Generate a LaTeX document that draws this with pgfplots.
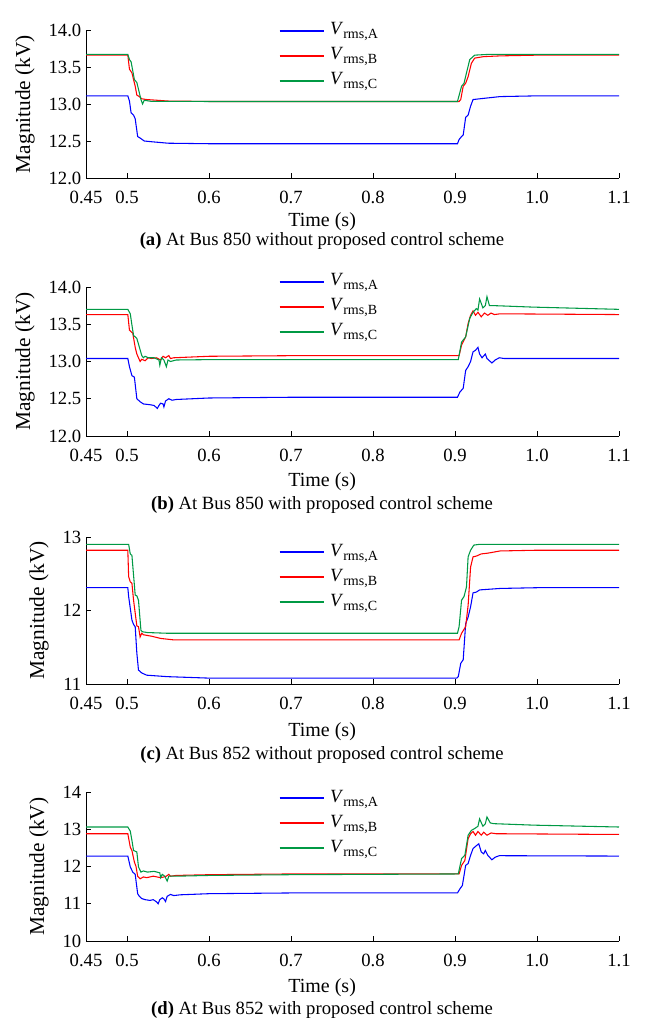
\documentclass[border=0pt]{standalone}
\usepackage{fontspec}
\setmainfont{Liberation Serif}
\usepackage{pgfplots}
\pgfplotsset{compat=1.18}

\definecolor{cA}{RGB}{0,0,255}
\definecolor{cB}{RGB}{255,0,0}
\definecolor{cC}{RGB}{0,153,68}

\newcommand{\fs}{\fontsize{14}{16}\selectfont}
\newcommand{\vr}[1]{\textit{V}\raisebox{-3pt}{\fontsize{10.5}{12}\selectfont rms,#1}}

% common look of the four panels; #1 = ylabel x pos, #2 = xlabel y pos
\pgfplotsset{
  panel/.style n args={2}{
    scale only axis, width=399.75pt,
    xmin=0.45, xmax=1.1,
    axis x line*=bottom, axis y line*=left,
    axis line style={-, black, line width=0.6pt},
    tick style={black, line width=0.6pt},
    tick align=inside, major tick length=3.5pt,
    xtick={0.45,0.5,0.6,0.7,0.8,0.9,1.0,1.1},
    xticklabels={0.45,0.5,0.6,0.7,0.8,0.9,1.0,1.1},
    tick label style={font=\fs},
    xticklabel style={yshift=-6pt},
    xlabel={Time (s)}, ylabel={Magnitude (kV)},
    xlabel style={font=\fontsize{15}{17}\selectfont},
    ylabel style={font=\fontsize{16}{18}\selectfont},
    ylabel style={at={(axis description cs:#1,0.5)}, anchor=center},
    xlabel style={at={(axis description cs:0.443,#2)}, anchor=center},
    no markers,
    every axis plot/.append style={line width=0.8pt},
    legend image code/.code={\draw[##1] (0pt,3pt) -- (33pt,3pt);},
    legend style={draw=none, fill=none, inner sep=0pt, outer sep=0pt,
      row sep=0pt, column sep=4.5pt, font=\fontsize{14}{16}\selectfont,
      nodes={inner sep=0pt, text height=10pt, text depth=8.75pt},
      cells={anchor=base west}},
  }
}

\begin{document}
\begin{tikzpicture}
\useasboundingbox (0,0) rectangle (483pt,768pt);

% (a)
\begin{axis}[panel={-0.1144}{-0.298},
  at={(64.5pt,634.5pt)}, anchor=south west, height=111pt,
  ymin=12, ymax=14, ytick={12,12.5,13,13.5,14},
  yticklabels={12.0,12.5,13.0,13.5,14.0},
  legend style={at={(0.3621,1.0563)}, anchor=north west}]
\addplot[cA] coordinates {(0.45,13.11)(0.501,13.11)(0.503,13.04)(0.505,12.88)(0.508,12.85)(0.510,12.80)(0.513,12.56)(0.516,12.54)(0.521,12.50)(0.530,12.49)(0.550,12.47)(0.600,12.463)(0.903,12.463)(0.905,12.52)(0.908,12.56)(0.910,12.58)(0.913,12.82)(0.916,12.85)(0.919,12.97)(0.922,13.06)(0.930,13.07)(0.955,13.10)(1.0,13.11)(1.1,13.11)};
\addlegendentry{\vr{A}}
\addplot[cB] coordinates {(0.45,13.66)(0.501,13.66)(0.503,13.47)(0.506,13.42)(0.510,13.24)(0.512,13.12)(0.515,13.10)(0.518,13.07)(0.524,13.06)(0.55,13.04)(0.6,13.034)(0.905,13.034)(0.907,13.06)(0.910,13.24)(0.913,13.28)(0.916,13.37)(0.920,13.55)(0.924,13.62)(0.935,13.64)(0.955,13.65)(1.0,13.66)(1.1,13.66)};
\addlegendentry{\vr{B}}
\addplot[cC] coordinates {(0.45,13.67)(0.501,13.67)(0.503,13.60)(0.505,13.57)(0.509,13.33)(0.512,13.29)(0.514,13.20)(0.517,13.06)(0.519,13.00)(0.521,13.05)(0.53,13.035)(0.6,13.034)(0.903,13.034)(0.908,13.24)(0.911,13.28)(0.914,13.42)(0.918,13.60)(0.924,13.66)(0.94,13.67)(1.1,13.67)};
\addlegendentry{\vr{C}}
\end{axis}

% (b)
\begin{axis}[panel={-0.1144}{-0.31},
  at={(64.5pt,441pt)}, anchor=south west, height=111.75pt,
  ymin=12, ymax=14, ytick={12,12.5,13,13.5,14},
  yticklabels={12.0,12.5,13.0,13.5,14.0},
  legend style={at={(0.3621,1.0962)}, anchor=north west}]
\addplot[cA] coordinates {(0.45,13.04)(0.501,13.04)(0.503,12.93)(0.506,12.81)(0.509,12.79)(0.512,12.50)(0.516,12.46)(0.520,12.43)(0.528,12.42)(0.533,12.41)(0.537,12.37)(0.539,12.41)(0.541,12.44)(0.544,12.43)(0.545,12.39)(0.547,12.47)(0.551,12.50)(0.555,12.48)(0.560,12.49)(0.6,12.51)(0.7,12.52)(0.903,12.52)(0.906,12.59)(0.910,12.64)(0.913,12.88)(0.916,12.93)(0.919,13.00)(0.922,13.13)(0.925,13.15)(0.928,13.19)(0.930,13.10)(0.933,13.05)(0.937,13.10)(0.939,13.04)(0.945,12.98)(0.949,13.02)(0.954,13.05)(0.96,13.04)(1.1,13.04)};
\addlegendentry{\vr{A}}
\addplot[cB] coordinates {(0.45,13.63)(0.501,13.63)(0.503,13.42)(0.507,13.38)(0.510,13.19)(0.512,13.10)(0.516,13.00)(0.518,13.03)(0.522,13.01)(0.526,13.05)(0.530,13.04)(0.536,13.05)(0.541,13.02)(0.544,13.07)(0.547,13.05)(0.551,13.08)(0.553,13.04)(0.557,13.05)(0.6,13.07)(0.7,13.078)(0.905,13.078)(0.908,13.22)(0.913,13.33)(0.916,13.51)(0.919,13.62)(0.922,13.68)(0.925,13.62)(0.928,13.66)(0.932,13.60)(0.936,13.65)(0.940,13.62)(0.944,13.65)(0.948,13.63)(0.955,13.64)(1.1,13.63)};
\addlegendentry{\vr{B}}
\addplot[cC] coordinates {(0.45,13.70)(0.501,13.70)(0.503,13.66)(0.504,13.64)(0.506,13.49)(0.508,13.35)(0.512,13.31)(0.518,13.08)(0.520,13.05)(0.522,13.07)(0.526,13.05)(0.533,13.05)(0.539,13.02)(0.540,12.95)(0.542,13.05)(0.545,13.02)(0.548,12.93)(0.550,13.02)(0.553,13.00)(0.56,13.02)(0.6,13.025)(0.904,13.025)(0.908,13.26)(0.913,13.33)(0.918,13.58)(0.922,13.66)(0.926,13.71)(0.928,13.69)(0.930,13.84)(0.934,13.72)(0.937,13.75)(0.939,13.87)(0.942,13.75)(0.947,13.75)(0.995,13.73)(1.1,13.70)};
\addlegendentry{\vr{C}}
\end{axis}

% (c)
\begin{axis}[panel={-0.088}{-0.325},
  at={(64.5pt,255pt)}, anchor=south west, height=110.25pt,
  ymin=11, ymax=13, ytick={11,12,13},
  yticklabels={11,12,13},
  legend style={at={(0.3621,0.9614)}, anchor=north west}]
\addplot[cA] coordinates {(0.45,12.31)(0.501,12.31)(0.502,12.19)(0.506,11.87)(0.508,11.81)(0.510,11.78)(0.512,11.42)(0.514,11.19)(0.518,11.15)(0.524,11.12)(0.549,11.10)(0.6,11.08)(0.902,11.08)(0.904,11.10)(0.907,11.28)(0.910,11.33)(0.913,11.82)(0.916,11.91)(0.919,12.05)(0.922,12.24)(0.926,12.25)(0.930,12.28)(0.955,12.30)(1.0,12.31)(1.1,12.31)};
\addlegendentry{\vr{A}}
\addplot[cB] coordinates {(0.45,12.82)(0.501,12.82)(0.502,12.46)(0.504,12.39)(0.506,12.37)(0.508,12.14)(0.512,11.79)(0.514,11.78)(0.516,11.64)(0.518,11.69)(0.520,11.67)(0.53,11.65)(0.541,11.62)(0.557,11.60)(0.6,11.60)(0.905,11.60)(0.908,11.69)(0.913,11.78)(0.916,12.07)(0.919,12.59)(0.922,12.73)(0.926,12.74)(0.932,12.77)(0.94,12.78)(0.955,12.81)(1.0,12.82)(1.1,12.82)};
\addlegendentry{\vr{B}}
\addplot[cC] coordinates {(0.45,12.90)(0.502,12.90)(0.504,12.77)(0.506,12.75)(0.508,12.48)(0.510,12.21)(0.512,12.20)(0.514,12.14)(0.517,11.73)(0.519,11.71)(0.525,11.70)(0.55,11.69)(0.6,11.69)(0.903,11.69)(0.905,11.78)(0.908,12.14)(0.911,12.19)(0.914,12.32)(0.916,12.73)(0.919,12.82)(0.923,12.89)(0.93,12.90)(1.1,12.90)};
\addlegendentry{\vr{C}}
\end{axis}

% (d)
\begin{axis}[panel={-0.088}{-0.31},
  at={(64.5pt,62.25pt)}, anchor=south west, height=111.75pt,
  ymin=10, ymax=14, ytick={10,11,12,13,14},
  yticklabels={10,11,12,13,14},
  legend style={at={(0.3621,1.0223)}, anchor=north west}]
\addplot[cA] coordinates {(0.45,12.28)(0.501,12.28)(0.504,11.99)(0.507,11.85)(0.510,11.79)(0.513,11.27)(0.515,11.20)(0.518,11.14)(0.522,11.11)(0.528,11.09)(0.532,11.11)(0.536,11.05)(0.538,11.00)(0.540,11.11)(0.543,11.16)(0.545,11.13)(0.547,11.06)(0.549,11.20)(0.553,11.25)(0.557,11.22)(0.565,11.24)(0.6,11.27)(0.7,11.29)(0.903,11.29)(0.906,11.40)(0.909,11.49)(0.913,12.03)(0.916,12.08)(0.919,12.30)(0.922,12.48)(0.925,12.54)(0.929,12.61)(0.932,12.39)(0.935,12.34)(0.937,12.43)(0.940,12.30)(0.945,12.18)(0.949,12.25)(0.954,12.29)(1.1,12.28)};
\addlegendentry{\vr{A}}
\addplot[cB] coordinates {(0.45,12.88)(0.501,12.88)(0.504,12.52)(0.506,12.43)(0.509,12.12)(0.511,12.00)(0.513,11.74)(0.516,11.67)(0.520,11.72)(0.524,11.70)(0.532,11.74)(0.541,11.70)(0.545,11.72)(0.548,11.74)(0.551,11.79)(0.553,11.74)(0.56,11.76)(0.6,11.78)(0.7,11.80)(0.905,11.80)(0.908,12.03)(0.912,12.16)(0.916,12.75)(0.919,12.88)(0.922,12.94)(0.925,12.84)(0.928,12.94)(0.932,12.84)(0.935,12.92)(0.939,12.84)(0.944,12.90)(0.95,12.88)(1.1,12.86)};
\addlegendentry{\vr{B}}
\addplot[cC] coordinates {(0.45,13.06)(0.501,13.06)(0.504,12.95)(0.506,12.70)(0.508,12.43)(0.512,12.39)(0.514,11.99)(0.517,11.85)(0.520,11.88)(0.525,11.85)(0.533,11.87)(0.540,11.83)(0.541,11.70)(0.543,11.79)(0.546,11.74)(0.549,11.61)(0.551,11.74)(0.56,11.74)(0.6,11.76)(0.7,11.78)(0.904,11.80)(0.908,12.21)(0.912,12.30)(0.916,12.84)(0.920,12.97)(0.924,13.02)(0.928,13.08)(0.930,13.28)(0.934,13.08)(0.937,13.15)(0.939,13.33)(0.943,13.17)(0.947,13.15)(0.996,13.11)(1.1,13.06)};
\addlegendentry{\vr{C}}
\end{axis}

\node[font=\fs] at (241.5pt,587pt) {\textbf{(a)} At Bus 850 without proposed control scheme};
\node[font=\fs] at (241.5pt,389.25pt) {\textbf{(b)} At Bus 850 with proposed control scheme};
\node[font=\fs] at (241.5pt,201.75pt) {\textbf{(c)} At Bus 852 without proposed control scheme};
\node[font=\fs] at (241.5pt,10.5pt) {\textbf{(d)} At Bus 852 with proposed control scheme};
\end{tikzpicture}
\end{document}
